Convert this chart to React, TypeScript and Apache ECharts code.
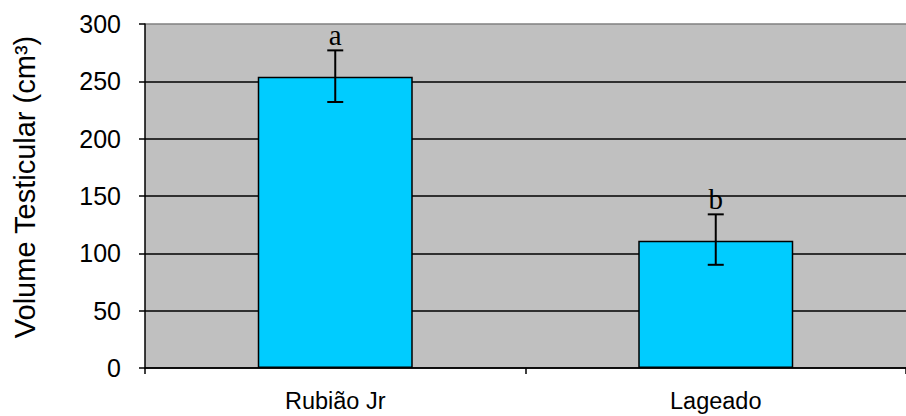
import React, { useEffect, useRef } from "react";
import * as echarts from "echarts";

const categories = ["Rubião Jr", "Lageado"];
const means = [254, 111];
const errLow = [232, 90];
const errHigh = [277, 134];
const letters = ["a", "b"];
const yTicks = [0, 50, 100, 150, 200, 250, 300];
const yTitle = "Volume Testicular (cm³)";

export default function App() {
  const ref = useRef<HTMLDivElement>(null);
  useEffect(() => {
    const chart = echarts.init(ref.current!, null, { renderer: "svg" });
    const errData = categories.map((_, i) => [i, errLow[i], errHigh[i]]);
    chart.setOption({
      animation: false,
      grid: { left: 145, top: 24, bottom: 48, right: -9, show: true, backgroundColor: "#C0C0C0", borderWidth: 0 },
      graphic: [
        {
          type: "text",
          x: 25,
          y: 187,
          rotation: Math.PI / 2,
          style: {
            text: yTitle,
            fill: "#000",
            font: "29px 'Liberation Sans'",
            align: "center",
            verticalAlign: "middle",
          },
        },
      ],
      xAxis: {
        type: "category",
        data: categories,
        boundaryGap: true,
        axisLine: { lineStyle: { color: "#000", width: 1.5 } },
        axisTick: { show: true, length: 6, lineStyle: { color: "#000", width: 1.5 } },
        axisLabel: { color: "#000", fontFamily: "Liberation Sans", fontSize: 23.5, margin: 21 },
      },
      yAxis: {
        type: "value",
        min: yTicks[0],
        max: yTicks[yTicks.length - 1],
        interval: 50,
        axisLine: { show: true, lineStyle: { color: "#000", width: 1.5 } },
        axisTick: { show: true, length: 6, lineStyle: { color: "#000", width: 1.5 } },
        axisLabel: { color: "#000", fontFamily: "Liberation Sans", fontSize: 25, margin: 24 },
        splitLine: {
          show: true,
          lineStyle: { color: ["#000", "#000", "#000", "#000", "#000", "#000", "#808080"], width: 1.5 },
        },
      },
      series: [
        {
          type: "bar",
          data: means,
          barWidth: 155,
          itemStyle: { color: "#00CCFF", borderColor: "#000", borderWidth: 1.5 },
        },
        {
          type: "custom",
          data: errData,
          z: 10,
          renderItem: (params: any, api: any) => {
            const i = api.value(0);
            const lo = api.coord([i, api.value(1)]);
            const hi = api.coord([i, api.value(2)]);
            const half = 8;
            const style = { stroke: "#000", lineWidth: 2 };
            return {
              type: "group",
              children: [
                { type: "line", shape: { x1: hi[0], y1: hi[1], x2: lo[0], y2: lo[1] }, style },
                { type: "line", shape: { x1: hi[0] - half, y1: hi[1], x2: hi[0] + half, y2: hi[1] }, style },
                { type: "line", shape: { x1: lo[0] - half, y1: lo[1], x2: lo[0] + half, y2: lo[1] }, style },
                {
                  type: "text",
                  x: hi[0],
                  y: hi[1] - 1,
                  style: {
                    text: letters[params.dataIndex],
                    fill: "#000",
                    font: "29px 'Liberation Serif'",
                    align: "center",
                    verticalAlign: "bottom",
                  },
                },
              ],
            };
          },
        },
      ],
    });
    return () => chart.dispose();
  }, []);
  return <div ref={ref} style={{ width: 906, height: 416, position: "absolute", left: 0, top: 0 }} />;
}
